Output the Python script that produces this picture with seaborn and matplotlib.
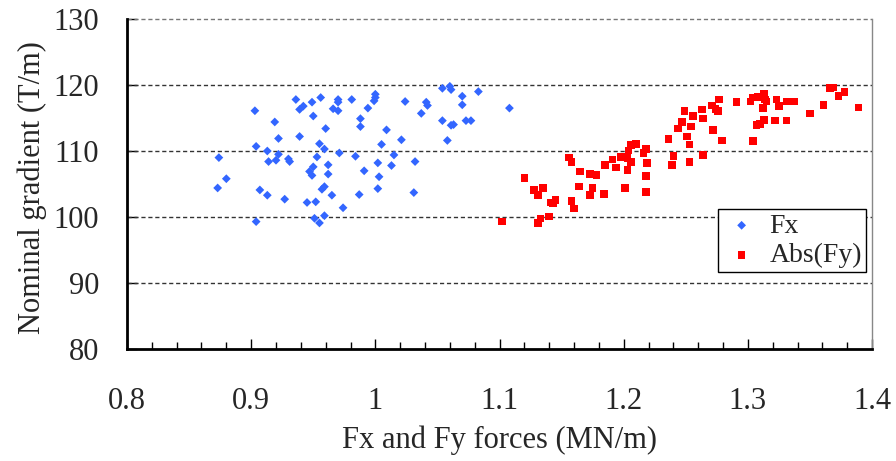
import matplotlib
matplotlib.use("Agg")
import matplotlib.pyplot as plt
import seaborn as sns
import pandas as pd
from matplotlib.ticker import MultipleLocator

# ---- data ----
fx_x = [0.874, 0.880, 0.873, 0.903, 0.904, 0.904, 0.907, 0.913, 0.914, 0.913,
        0.919, 0.922, 0.922, 0.920, 0.927, 0.930, 0.931, 0.936, 0.939, 0.942,
        0.939, 0.949, 0.956, 0.950, 0.960, 0.955, 0.959, 0.953, 0.950, 0.947,
        0.949, 0.962, 0.962, 0.959, 0.957, 0.965, 0.945, 0.952, 0.974, 0.951,
        0.959, 0.955, 0.970, 0.970, 0.966, 0.970, 0.971, 0.981, 0.994, 0.988,
        0.988, 1.000, 1.000, 0.999, 0.984, 0.991, 0.987, 1.005, 1.009, 1.002,
        1.003, 1.002, 1.015, 1.013, 1.021, 1.024, 1.032, 1.031, 1.037, 1.041,
        1.042, 1.054, 1.054, 1.060, 1.061, 1.070, 1.070, 1.061, 1.063, 1.058,
        1.073, 1.077, 1.083, 1.108]
fx_y = [109.0, 105.8, 104.4, 116.1, 110.7, 99.3, 104.1, 110.0, 108.4, 103.3,
        114.4, 111.9, 109.5, 108.6, 102.7, 108.8, 108.4, 117.8, 116.3, 116.8,
        112.2, 117.4, 118.1, 115.3, 113.4, 111.1, 110.3, 109.1, 107.6, 106.9,
        106.3, 107.9, 106.5, 104.6, 104.2, 103.3, 102.2, 102.3, 101.4, 99.8,
        100.2, 99.1, 117.8, 117.4, 116.4, 116.1, 109.7, 117.8, 116.5, 114.9,
        113.7, 118.6, 118.1, 117.6, 109.2, 107.0, 103.4, 111.0, 113.2, 108.2,
        106.1, 104.3, 109.4, 107.8, 111.7, 117.5, 108.4, 103.7, 115.7, 117.4,
        116.9, 114.6, 119.5, 119.8, 119.3, 118.3, 117.0, 113.9, 114.0, 111.6,
        114.6, 114.6, 119.0, 116.5]

fy_x = [1.102, 1.120, 1.128, 1.135, 1.131, 1.141, 1.145, 1.143, 1.140, 1.133,
        1.131, 1.156, 1.158, 1.165, 1.164, 1.158, 1.160, 1.173, 1.178, 1.175,
        1.173, 1.185, 1.184, 1.191, 1.194, 1.198, 1.203, 1.204, 1.206, 1.210,
        1.206, 1.203, 1.201, 1.216, 1.218, 1.219, 1.218, 1.218, 1.236, 1.240,
        1.239, 1.244, 1.247, 1.249, 1.256, 1.254, 1.251, 1.253, 1.253, 1.263,
        1.264, 1.264, 1.271, 1.274, 1.276, 1.277, 1.272, 1.279, 1.291, 1.302,
        1.304, 1.307, 1.310, 1.304, 1.308, 1.313, 1.314, 1.312, 1.313, 1.315,
        1.323, 1.325, 1.322, 1.331, 1.331, 1.337, 1.350, 1.361, 1.366, 1.369,
        1.373, 1.378, 1.389]
fy_y = [99.3, 105.9, 104.1, 104.4, 103.3, 102.2, 102.6, 102.1, 100.1, 99.8,
        99.1, 109.0, 108.3, 106.9, 104.6, 102.4, 101.3, 106.5, 106.4, 104.4,
        103.3, 107.9, 103.5, 108.7, 107.5, 109.1, 108.9, 110.1, 110.9, 111.1,
        108.3, 107.1, 104.4, 109.7, 110.3, 108.2, 106.2, 103.8, 111.8, 109.2,
        107.9, 113.4, 114.4, 116.1, 115.3, 113.7, 112.2, 111.0, 108.3, 116.3,
        114.9, 109.4, 116.9, 116.4, 116.1, 117.8, 113.2, 111.6, 117.4, 117.5,
        111.5, 113.9, 114.1, 118.1, 118.2, 118.6, 117.8, 116.5, 114.7, 117.5,
        117.8, 116.8, 114.6, 114.6, 117.5, 117.5, 115.7, 117.0, 119.5, 119.6,
        118.3, 118.9, 116.6]

series_names = ["Fx", "Abs(Fy)"]
x_ticks = [0.8, 0.9, 1.0, 1.1, 1.2, 1.3, 1.4]
x_tick_labels = ["0.8", "0.9", "1", "1.1", "1.2", "1.3", "1.4"]
y_ticks = [80, 90, 100, 110, 120, 130]
x_label = "Fx and Fy forces (MN/m)"
y_label = "Nominal gradient (T/m)"

df_fx = pd.DataFrame({"force": fx_x, "gradient": fx_y, "series": series_names[0]})
df_fy = pd.DataFrame({"force": fy_x, "gradient": fy_y, "series": series_names[1]})

# ---- style ----
sns.set_theme(style="white")
plt.rcParams["font.family"] = ["Liberation Serif", "DejaVu Serif"]
plt.rcParams["font.size"] = 22

fig = plt.figure(figsize=(8.96, 4.61), dpi=100)
ax = fig.add_axes([127 / 896, 1 - 349 / 461, 745 / 896, 330 / 461])

sns.scatterplot(data=df_fx, x="force", y="gradient", marker="D", s=20,
                color="#3366FF", edgecolor="none", linewidth=0, ax=ax,
                label=series_names[0], zorder=3)
sns.scatterplot(data=df_fy, x="force", y="gradient", marker="s", s=30,
                color="#FF0000", edgecolor="none", linewidth=0, ax=ax,
                label=series_names[1], zorder=3)

ax.set_xlim(0.8, 1.4)
ax.set_ylim(80, 130)
ax.set_xticks(x_ticks)
ax.set_xticklabels(x_tick_labels)
ax.xaxis.set_minor_locator(MultipleLocator(0.02))
ax.set_yticks(y_ticks)

# gridlines
for yv in y_ticks[1:]:
    ax.axhline(yv, color="#333333" if yv < 130 else "#777777", lw=1.0,
               ls=(0, (3, 2)), zorder=1, clip_on=False)

ax.spines["top"].set_visible(False)
ax.spines["left"].set_color("black")
ax.spines["left"].set_linewidth(2)
ax.spines["bottom"].set_color("black")
ax.spines["bottom"].set_linewidth(2)
ax.spines["right"].set_color("#888888")
ax.spines["right"].set_linewidth(1)

ax.tick_params(axis="x", which="major", direction="in", length=7, width=1,
               color="black", pad=27, labelsize=22, bottom=True, top=False)
ax.tick_params(axis="x", which="minor", direction="in", length=5, width=1,
               color="black", bottom=True, top=False)
ax.tick_params(axis="y", which="major", direction="in", length=7, width=1,
               color="black", pad=20, labelsize=22, left=True, right=False)

ax.set_xlabel(x_label, fontsize=22)
ax.set_ylabel(y_label, fontsize=22)
ax.xaxis.set_label_coords(0.5, -0.232)
ax.yaxis.set_label_coords(-0.107, 0.49)

leg = ax.legend(loc="upper left", bbox_to_anchor=(718 / 896, 1 - 209 / 461),
                bbox_transform=fig.transFigure, fontsize=20, frameon=True,
                fancybox=False, edgecolor="black", framealpha=1,
                borderpad=0.15, labelspacing=0.15, handletextpad=0.3,
                handlelength=1.4, borderaxespad=0)
leg.get_frame().set_linewidth(1)

fig.savefig("out.png", dpi=100)
